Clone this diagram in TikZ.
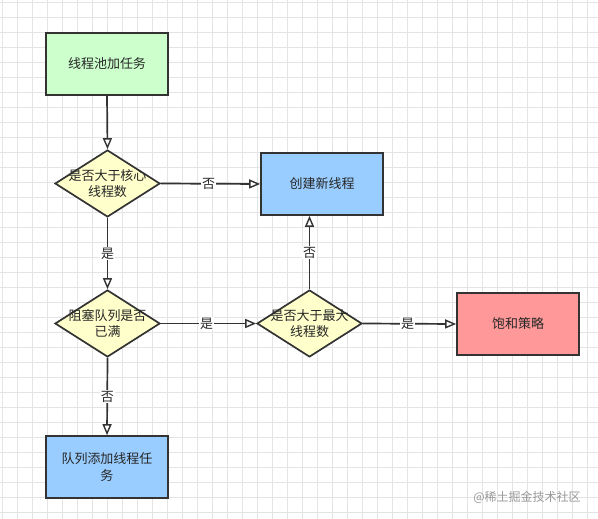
\documentclass[tikz,border=0pt]{standalone}
\usepackage{fontspec}
\setmainfont{Noto Sans CJK SC}
\usetikzlibrary{shapes.geometric,arrows.meta}
\definecolor{gridc}{RGB}{228,228,228}
\definecolor{edgec}{RGB}{51,51,51}
\definecolor{greenf}{RGB}{204,255,204}
\definecolor{bluef}{RGB}{153,204,255}
\definecolor{redf}{RGB}{255,153,153}
\definecolor{yellowf}{RGB}{255,255,204}
\tikzset{
  box/.style={draw=edgec, line width=1.7pt, minimum width=122pt, minimum height=62pt, inner sep=2pt, align=center, font=\fontsize{13}{17}\selectfont, text=black!85},
  dia/.style={diamond, draw=edgec, line width=1.7pt, minimum width=105pt, minimum height=67pt, inner sep=0pt, fill=yellowf},
  diatext/.style={align=center, font=\fontsize{13}{16.5}\selectfont, text=black!85},
  conn/.style={draw=edgec, line width=1.7pt, -{Triangle[length=11pt, width=9pt, fill=white, line width=1.4pt]}},
  lbl/.style={fill=white, inner sep=1pt, font=\fontsize{13}{15}\selectfont, text=black!85}
}
\begin{document}
\begin{tikzpicture}[x=1pt,y=-1pt]
\useasboundingbox (0,0) rectangle (598,519);
\fill[white] (0,0) rectangle (598,519);
\foreach \i in {0,...,39} {
  \draw[gridc, line width=0.8pt] (2+15*\i,0) -- (2+15*\i,519);
}
\foreach \j in {0,...,34} {
  \draw[gridc, line width=0.8pt] (0,2+15*\j) -- (598,2+15*\j);
}
\node[box, fill=greenf] (start) at (107,64) {线程池加任务};
\node[dia] (d1) at (107.5,183.5) {};
\node[diatext] (t1) at (d1) {是否大于核心\\线程数};
\node[box, fill=bluef] (create) at (322,184) {创建新线程};
\node[dia] (d2) at (107.5,323.5) {};
\node[diatext] (t2) at (d2) {阻塞队列是否\\已满};
\node[dia] (d3) at (309.5,323.5) {};
\node[diatext] (t3) at (d3) {是否大于最大\\线程数};
\node[box, fill=redf] (sat) at (518,324) {饱和策略};
\node[box, fill=bluef] (queue) at (107,467) {队列添加线程任\\务};
\node[text=black!40, font=\fontsize{12}{14}\selectfont] (wm) at (527,497) {@稀土掘金技术社区};

\draw[conn] (start.south) -- (d1.north);
\draw[conn] (d1.east) -- node[lbl, pos=0.48] {否} (create.west);
\draw[conn] (d1.south) -- node[lbl, pos=0.5] {是} (d2.north);
\draw[conn] (d2.east) -- node[lbl, pos=0.48] {是} (d3.west);
\draw[conn] (d3.north) -- node[lbl, pos=0.5] {否} (create.south -| d3.north);
\draw[conn] (d3.east) -- node[lbl, pos=0.48] {是} (sat.west);
\draw[conn] (d2.south) -- node[lbl, pos=0.5] {否} (queue.north);
\end{tikzpicture}
\end{document}
